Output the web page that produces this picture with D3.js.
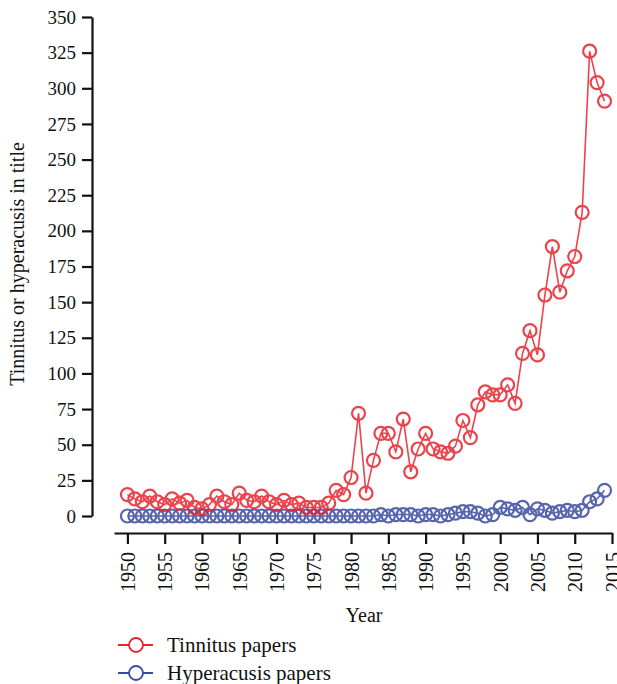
<!DOCTYPE html>
<html>
<head>
<meta charset="utf-8">
<script src="https://cdn.jsdelivr.net/npm/d3@7"></script>
<style>
  body { margin: 0; background: #fff; }
  text { font-family: "Liberation Serif", "DejaVu Serif", serif; fill: #111; }
</style>
</head>
<body>
<div id="chart"></div>
<script>
const years = d3.range(1950, 2015);
const tinnitus = [15, 12, 10, 14, 10, 8, 12, 9, 11, 6,
                  5, 8, 14, 10, 8, 16, 11, 10, 14, 10,
                  8, 11, 8, 9, 6, 6, 6, 9, 18, 15,
                  27, 72, 16, 39, 58, 58, 45, 68, 31, 47,
                  58, 47, 45, 44, 49, 67, 55, 78, 87, 85,
                  85, 92, 79, 114, 130, 113, 155, 189, 157, 172,
                  182, 213, 326, 304, 291];
const hyperacusis = [0, 0, 0, 0, 0, 0, 0, 0, 0, 0,
                     0, 0, 0, 0, 0, 0, 0, 0, 0, 0,
                     0, 0, 0, 0, 0, 0, 0, 0, 0, 0,
                     0, 0, 0, 0, 1, 0, 1, 1, 1, 0,
                     1, 1, 0, 1, 2, 3, 3, 2, 0, 1,
                     6, 5, 4, 6, 1, 5, 4, 2, 3, 4,
                     3, 4, 10, 12, 18];
const yTicks = d3.range(0, 351, 25);
const xTicks = d3.range(1950, 2016, 5);
const seriesNames = ["Tinnitus papers", "Hyperacusis papers"];
const seriesColors = ["#e8232d", "#3a4aa0"];

const width = 617, height = 684;

const svg = d3.select("#chart")
    .append("svg")
    .attr("width", width)
    .attr("height", height);

const x = d3.scaleLinear().domain([1948.2, 2015]).range([114, 612]);
const y = d3.scaleLinear().domain([0, 350]).range([516, 17]);

// Y axis (offset from the x axis, Prism style)
const yAxis = svg.append("g")
    .attr("transform", "translate(92,0)")
    .call(d3.axisLeft(y).tickValues(yTicks).tickSize(10).tickSizeOuter(0).tickPadding(6));
yAxis.selectAll("text").style("font-size", "19px");

// X axis
const xAxis = svg.append("g")
    .attr("transform", "translate(0,533)")
    .call(d3.axisBottom(x).tickValues(xTicks).tickFormat(d3.format("d")).tickSize(11).tickSizeOuter(0));
xAxis.selectAll("text")
    .style("font-size", "20px")
    .attr("transform", "rotate(-90)")
    .attr("text-anchor", "end")
    .attr("x", -19)
    .attr("y", 0)
    .attr("dy", "0.35em");

[yAxis, xAxis].forEach(a => {
    a.select(".domain").attr("stroke", "#111").attr("stroke-width", 2.2);
    a.selectAll(".tick line").attr("stroke", "#111").attr("stroke-width", 2.2);
});

// Axis titles
svg.append("text")
    .attr("x", 364)
    .attr("y", 622)
    .attr("text-anchor", "middle")
    .style("font-size", "20px")
    .text("Year");

svg.append("text")
    .attr("transform", "translate(24,264) rotate(-90)")
    .attr("text-anchor", "middle")
    .style("font-size", "20px")
    .text("Tinnitus or hyperacusis in title");

// Series
const line = d3.line()
    .x((d, i) => x(years[i]))
    .y(d => y(d));

[hyperacusis, tinnitus].forEach((vals, k) => {
    const color = k === 0 ? seriesColors[1] : seriesColors[0];
    const g = svg.append("g").attr("opacity", 0.85);
    g.append("path")
        .datum(vals)
        .attr("fill", "none")
        .attr("stroke", color)
        .attr("stroke-width", 1.6)
        .attr("d", line);
    g.selectAll("circle")
        .data(vals)
        .enter()
        .append("circle")
        .attr("cx", (d, i) => x(years[i]))
        .attr("cy", d => y(d))
        .attr("r", 6.5)
        .attr("fill", "none")
        .attr("stroke", color)
        .attr("stroke-width", 2.2);
});

// Legend
const legend = svg.append("g");
seriesNames.forEach((name, i) => {
    const ly = 645 + i * 28;
    legend.append("line")
        .attr("x1", 118).attr("x2", 153)
        .attr("y1", ly).attr("y2", ly)
        .attr("stroke", seriesColors[i])
        .attr("stroke-width", 1.8);
    legend.append("circle")
        .attr("cx", 136).attr("cy", ly)
        .attr("r", 7)
        .attr("fill", "#fff")
        .attr("stroke", seriesColors[i])
        .attr("stroke-width", 1.8);
    legend.append("text")
        .attr("x", 167)
        .attr("y", ly)
        .attr("dy", "0.35em")
        .style("font-size", "21px")
        .text(name);
});
</script>
</body>
</html>
